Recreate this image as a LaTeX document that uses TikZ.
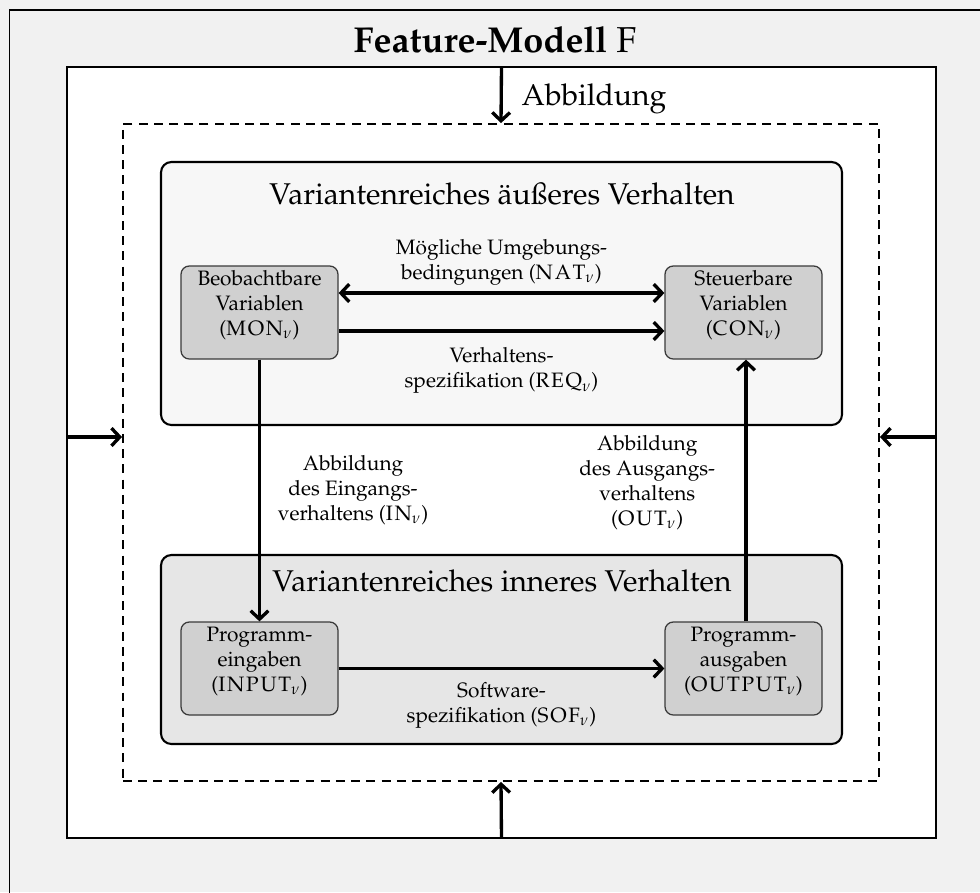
\documentclass[tikz,border=0pt]{standalone}
\usepackage[T1]{fontenc}
\usepackage{mathpazo}
\usetikzlibrary{arrows.meta,fit}

\definecolor{bggray}{HTML}{F1F1F1}
\definecolor{outerfill}{HTML}{F7F7F7}
\definecolor{innerfill}{HTML}{E6E6E6}
\definecolor{varfill}{HTML}{D0D0D0}
\definecolor{varline}{HTML}{3A3A3A}

% name of a variable set with its variant index, e.g. \vset{NAT}
\newcommand{\vset}[1]{$\mathrm{\vsetspaced#1\relax}_{\nu}$}
\def\vsetspaced#1#2\relax{#1\ifx\relax#2\relax\else\mkern1.5mu\vsetspaced#2\relax\fi}

\begin{document}
\begin{tikzpicture}[x=0.48pt,y=-0.48pt,
  >={Straight Barb[length=4pt,width=8.5pt]},
  arr/.style={line width=1.6pt,->},
  biarr/.style={line width=1.6pt,<->},
  frameline/.style={draw=black,line width=0.9pt},
  areabox/.style={frameline,inner sep=0pt},
  dashbox/.style={draw=black,line width=0.9pt,dash pattern=on 4.3pt off 3pt,inner sep=0pt},
  container/.style={draw=black,line width=1pt,rounded corners=5pt,inner sep=0pt},
  varbox/.style={draw=varline,line width=0.6pt,fill=varfill,rounded corners=4pt,
    inner sep=0pt,align=center,font=\normalsize},
  lbl/.style={align=center,font=\normalsize,inner sep=2pt},
  heading/.style={font=\Large,inner sep=0pt}]

\useasboundingbox (0,0) rectangle (980,892);
\fill[bggray] (0,0) rectangle (980,892);

% outer frame of the feature model, running past the right and bottom edges
\begin{scope}
  \clip (0,0) rectangle (980,892);
  \node[areabox,fit={(9.5,10) (1010,920)}] (model) {};
\end{scope}

\node[font=\LARGE] (title) at (495,40) {\textbf{Feature-Modell} F};

% mapping area and the dashed system boundary
\node[areabox,fill=white,fit={(67,67) (936,838)}] (map) {};
\node[dashbox,fit={(123,124) (879,781)}] (sys) {};

% outer and inner behaviour
\node[container,fill=outerfill,fit={(161,162) (842,425)}] (outer) {};
\node[container,fill=innerfill,fit={(161,555) (842,744)}] (inner) {};

\node[heading] (outertitle) at (502,194) {Variantenreiches \"au\ss{}eres Verhalten};
\node[heading] (innertitle) at (502,581) {Variantenreiches inneres Verhalten};

% variable sets
\node[varbox,fit={(181,266) (338,359)}] (mon) {Beobachtbare\\Variablen\\(\vset{MON})};
\node[varbox,fit={(665,266) (822,359)}] (con) {Steuerbare\\Variablen\\(\vset{CON})};
\node[varbox,fit={(181,622) (338,715)}] (inp) {Programm-\\eingaben\\(\vset{INPUT})};
\node[varbox,fit={(665,622) (822,715)}] (outp) {Programm-\\ausgaben\\(\vset{OUTPUT})};

% heights of the side arrows and of the two relations between MON and CON
\coordinate (side) at (0,437);
\coordinate (nat) at (0,293);
\coordinate (req) at (0,331);

% mappings into the system boundary
\draw[arr] (map.north) -- (sys.north)
  node[heading,anchor=west,pos=0.5,xshift=9pt,yshift=-2pt] (abb) {Abbildung};
\draw[arr] (map.south) -- (sys.south);
\draw[arr] (map.west |- side) -- (sys.west |- side);
\draw[arr] (map.east |- side) -- (sys.east |- side);

% relations between the variable sets
\draw[biarr] (mon.east |- nat) -- node[lbl,above,yshift=1pt] (natlbl)
  {M\"ogliche Umgebungs-\\bedingungen (\vset{NAT})} (con.west |- nat);
\draw[arr] (mon.east |- req) -- node[lbl,below,yshift=-5pt] (reqlbl)
  {Verhaltens-\\spezifikation (\vset{REQ})} (con.west |- req);
\draw[arr] (mon.south) -- node[lbl,right,xshift=6pt] (inlbl)
  {Abbildung\\des Eingangs-\\verhaltens (\vset{IN})} (inp.north);
\draw[arr] (outp.north -| 746,0) -- node[lbl,left,xshift=-12pt,yshift=4pt] (outlbl)
  {Abbildung\\des Ausgangs-\\verhaltens\\(\vset{OUT})} (con.south -| 746,0);
\draw[arr] (inp.east) -- node[lbl,below,yshift=-4pt] (soflbl)
  {Software-\\spezifikation (\vset{SOF})} (outp.west);

\end{tikzpicture}
\end{document}
